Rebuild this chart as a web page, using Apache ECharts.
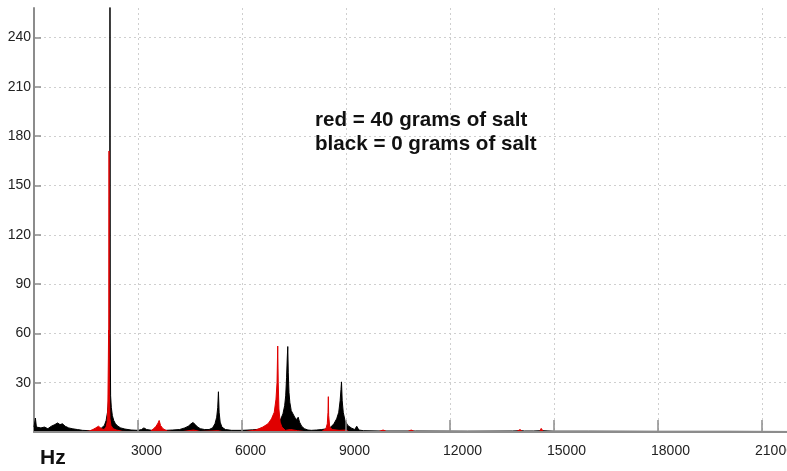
<!DOCTYPE html>
<html>
<head>
<meta charset="utf-8">
<script src="https://cdn.jsdelivr.net/npm/echarts@6/dist/echarts.min.js"></script>
<style>
  html, body { margin: 0; padding: 0; background: #fff; overflow: hidden; }
  #chart { width: 787px; height: 471px; }
</style>
</head>
<body>
<div id="chart"></div>
<script>
// Magnitude spectrum of the recorded tone (frequency axis cut just past 21 kHz)
// 0 g of salt (black trace)
const blackHz = [
  0, 40, 70, 120, 200, 300, 400, 500, 600, 680,
  750, 820, 900, 1000, 1100, 1250, 1400, 1600, 1750, 1850,
  1950, 2030, 2080, 2120, 2150, 2170, 2180, 2186, 2192, 2198,
  2210, 2230, 2260, 2300, 2350, 2420, 2500, 2620, 2800, 3000,
  3100, 3170, 3250, 3400, 3600, 3800, 4000, 4200, 4350, 4450,
  4530, 4590, 4650, 4720, 4800, 4920, 5050, 5150, 5220, 5270,
  5300, 5320, 5340, 5370, 5420, 5520, 5700, 6000, 6300, 6550,
  6700, 6850, 6950, 7050, 7120, 7180, 7230, 7260, 7285, 7305,
  7320, 7335, 7355, 7380, 7420, 7470, 7520, 7580, 7620, 7660,
  7720, 7800, 7900, 8000, 8150, 8300, 8450, 8560, 8650, 8730,
  8790, 8830, 8855, 8870, 8890, 8920, 8970, 9050, 9150, 9250,
  9310, 9370, 9500, 10000, 11000, 12500, 13800, 14050, 14150, 14400,
  14650, 15000, 16000, 18000, 20000, 22050
];
const blackAmp = [
  3, 8.5, 3, 4, 2.5, 3, 2, 3.5, 4.5, 5.5,
  4.5, 5, 3.5, 2.5, 2, 1.5, 1, 0.8, 1.2, 1.5,
  2.5, 4, 7, 12, 19, 22, 26, 75, 300, 60,
  22, 15, 10, 7, 5, 3.5, 2.5, 1.8, 1.2, 1,
  1.5, 2.5, 1.5, 1, 1.3, 1, 1.2, 1.5, 2.5, 3.5,
  5, 5.8, 4.5, 3, 2, 1.5, 1.5, 2.5, 5, 9,
  15, 24.5, 12, 6, 3, 1.5, 1, 1, 1.3, 1.8,
  2.5, 3.5, 4.5, 6, 8, 11, 16, 22, 33, 45,
  52, 36, 24, 18, 13, 11, 9, 7.5, 9, 6,
  3.5, 2, 1.2, 1, 1.2, 1.5, 2, 3, 5, 8,
  12, 19, 26, 30.5, 19, 12, 7, 4, 2.5, 1.5,
  3.5, 1.2, 0.8, 0.6, 0.6, 0.5, 0.6, 0.8, 0.6, 0.6,
  0.8, 0.5, 0.5, 0.4, 0.4, 0.3
];

// 40 g of salt (red trace)
const redHz = [
  0, 1400, 1600, 1700, 1780, 1860, 1900, 1950,
  2020, 2080, 2110, 2130, 2145, 2152, 2158, 2164, 2170, 2176,
  2190, 2220, 2280, 2380, 2550, 3000, 3350, 3450, 3520, 3580,
  3610, 3650, 3720, 3850, 4200, 4600, 4800, 5300, 5500, 6000,
  6400, 6600, 6750, 6850, 6930, 6980, 7010, 7030, 7045, 7065,
  7100, 7150, 7250, 7400, 7600, 7900, 8300, 8420, 8460, 8480,
  8490, 8500, 8530, 8600, 8800, 9000, 9100, 9900, 10070, 10200,
  10750, 10880, 11000, 13900, 14020, 14100, 14580, 14630, 14700, 22050
];
const redAmp = [
  0, 0, 0.6, 1.5, 2.5, 3.5, 3, 2,
  1.5, 3, 6, 15, 45, 62, 60, 171, 58, 22,
  8, 4, 2, 1.2, 0.4, 0, 0.3, 2, 3.5, 5.5,
  7, 4, 2, 0.5, 0, 1.2, 0.3, 0.8, 0, 0,
  1.2, 3, 5, 8, 12, 20, 30, 52.3, 30, 14,
  6, 3, 1, 1.5, 0.8, 0, 0.3, 2, 5, 12,
  21.5, 10, 3, 1.5, 1, 1.2, 0, 0, 1.2, 0,
  0, 1.2, 0, 0, 1.5, 0, 0, 2.2, 0, 0
];

const xTickStep = 3000;
const yTickStep = 30;
const noteLines = ['red = 40 grams of salt', 'black = 0 grams of salt'];

const pairs = (xs, ys) => xs.map((x, i) => [x, ys[i]]);

const FONT = '"Liberation Sans", Arial, sans-serif';
const AXIS_GREY = '#8c8c8c';
const GRID_GREY = '#cfcfcf';
const chart = echarts.init(document.getElementById('chart'), null, { renderer: 'canvas' });

// visible frequency window ends a little past 21 kHz
const xScale = { type: 'value', min: 0, max: 21720, interval: xTickStep };

chart.setOption({
  animation: false,
  backgroundColor: '#ffffff',
  grid: { left: 34, top: 8, right: 0, bottom: 39, containLabel: false, outerBoundsMode: 'none' },
  title: {
    text: 'Hz', left: 40, top: 448, padding: 0,
    textStyle: { fontFamily: FONT, fontSize: 21, fontWeight: 'bold', color: '#111' }
  },
  graphic: [{
    type: 'text', left: 315, top: 108, z: 100,
    style: {
      text: noteLines.join('\n'),
      font: 'bold 20.6px ' + FONT,
      fill: '#111',
      lineHeight: 24
    }
  }],
  xAxis: [
    // grid lines, behind the traces
    Object.assign({}, xScale, {
      z: 0,
      axisLine: { show: false },
      axisTick: { show: false },
      axisLabel: { show: false },
      splitLine: { show: true, showMaxLine: false, lineStyle: { color: GRID_GREY, type: [2, 3], width: 1 } }
    }),
    // axis line, ticks and labels, above the traces
    Object.assign({}, xScale, {
      z: 5, position: 'bottom',
      axisLine: { show: true, onZero: false, lineStyle: { color: AXIS_GREY, width: 2 } },
      axisTick: { show: true, inside: true, length: 12, lineStyle: { color: AXIS_GREY, width: 1.5 } },
      axisLabel: {
        showMinLabel: false, showMaxLabel: false, align: 'left', margin: 12,
        padding: [0, 0, 0, -7], hideOverlap: false,
        formatter: v => String(v),
        fontFamily: FONT, fontSize: 14, color: '#222'
      },
      splitLine: { show: false }
    })
  ],
  yAxis: {
    type: 'value', min: 0, max: 258, interval: yTickStep,
    axisLine: { show: true, onZero: false, lineStyle: { color: AXIS_GREY, width: 2 } },
    axisTick: { show: true, inside: true, length: 7, lineStyle: { color: AXIS_GREY, width: 1.5 } },
    axisLabel: {
      showMinLabel: false, showMaxLabel: false, margin: 3,
      fontFamily: FONT, fontSize: 14, color: '#222'
    },
    splitLine: { show: true, showMaxLine: false, showMinLine: false, lineStyle: { color: GRID_GREY, type: [2, 3], width: 1 } }
  },
  series: [
    {
      name: '0 g salt', type: 'line', xAxisIndex: 0, data: pairs(blackHz, blackAmp),
      showSymbol: false, symbol: 'none', sampling: false, clip: true, z: 2,
      lineStyle: { color: '#000', width: 1 },
      areaStyle: { color: '#000', opacity: 1 }
    },
    {
      name: '40 g salt', type: 'line', xAxisIndex: 0, data: pairs(redHz, redAmp),
      showSymbol: false, symbol: 'none', clip: true, z: 3,
      lineStyle: { color: '#e00000', width: 1 },
      areaStyle: { color: '#e00000', opacity: 1 }
    }
  ]
});
</script>
</body>
</html>
